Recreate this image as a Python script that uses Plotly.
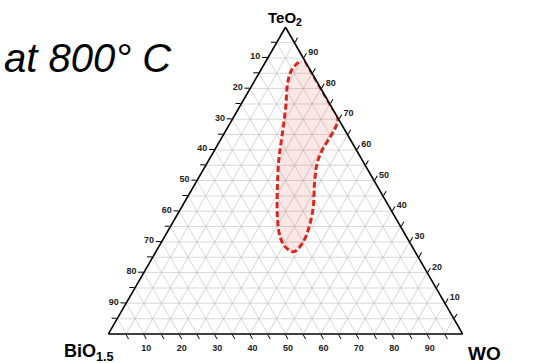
import plotly.graph_objects as go

# Ternary components (%): a = TeO2 (top), b = BiO1.5 (bottom-left), c = WO3 (bottom-right)
region_teo2 = [89, 84, 78, 74, 70.4, 67, 64.4, 60, 55.7, 49.2, 41.5, 35, 29.5, 26.8, 28.4, 31.7, 38.2, 47, 56.8, 64.4, 73.2, 82.4, 86.3, 89]
region_bio = [0, 0, 0, 0, 0, 2.5, 5.1, 9.6, 13.2, 17.2, 21.4, 25.8, 30.5, 34.4, 35.9, 35.7, 33.2, 28.8, 23.5, 18.8, 13.4, 8.1, 5, 1.4]
region_wo3 = [100 - a - b for a, b in zip(region_teo2, region_bio)]

tick_vals = list(range(5, 100, 5))
tick_text = [str(100 - v) if v % 10 == 0 else "" for v in tick_vals]

title_text = "<i>at 800° C</i>"
vertex_labels = ["<b>TeO<sub>2</sub></b>", "<b>BiO<sub>1.5</sub></b>", "<b>WO</b>"]

FONT = "Liberation Sans, Arial, sans-serif"

line_style = dict(color="#d8281e", width=3, dash="6px,3px", shape="spline")
try:
    region = go.Scatterternary(
        a=region_teo2, b=region_bio, c=region_wo3,
        mode="lines", fill="toself",
        fillcolor="rgba(0,0,0,0)",
        fillpattern=dict(shape="/", fgcolor="rgba(205,80,70,0.8)", bgcolor="white",
                         size=7, solidity=0.12),
        line=line_style, hoverinfo="skip", showlegend=False,
    )
except Exception:
    region = go.Scatterternary(
        a=region_teo2, b=region_bio, c=region_wo3,
        mode="lines", fill="toself",
        fillcolor="rgba(214,60,50,0.12)",
        line=line_style, hoverinfo="skip", showlegend=False,
    )

fig = go.Figure()
fig.add_trace(region)

axis_common = dict(
    tickmode="array", tickvals=tick_vals, ticktext=tick_text,
    ticks="outside", ticklen=5, tickcolor="black", tickwidth=1.2,
    linecolor="black", linewidth=1.6,
    gridcolor="rgba(185,185,185,0.55)", gridwidth=0.8,
    tickfont=dict(family=FONT, size=9, color="#222", weight="bold"),
    showline=True, showgrid=True, min=0, title=dict(text=""),
)

fig.update_layout(
    width=556, height=363,
    margin=dict(l=0, r=0, t=0, b=0),
    paper_bgcolor="white",
    ternary=dict(
        sum=100,
        bgcolor="white",
        domain=dict(x=[0.15, 0.877], y=[0.08, 0.925]),
        aaxis=axis_common, baxis=axis_common, caxis=axis_common,
    ),
    annotations=[
        dict(text=title_text, x=0.004, y=0.905, xref="paper", yref="paper",
             xanchor="left", yanchor="top", showarrow=False,
             font=dict(family=FONT, size=40, color="black")),
        dict(text=vertex_labels[0], x=285 / 556, y=1 - 19 / 363, xref="paper", yref="paper",
             xanchor="center", yanchor="middle", showarrow=False,
             font=dict(family=FONT, size=15, color="black")),
        dict(text=vertex_labels[1], x=116 / 556, y=1 - 352 / 363, xref="paper", yref="paper",
             xanchor="right", yanchor="middle", showarrow=False,
             font=dict(family=FONT, size=18, color="black")),
        dict(text=vertex_labels[2], x=466 / 556, y=1 - 353 / 363, xref="paper", yref="paper",
             xanchor="left", yanchor="middle", showarrow=False,
             font=dict(family=FONT, size=19, color="black")),
    ],
)

fig.write_html("out.html")
